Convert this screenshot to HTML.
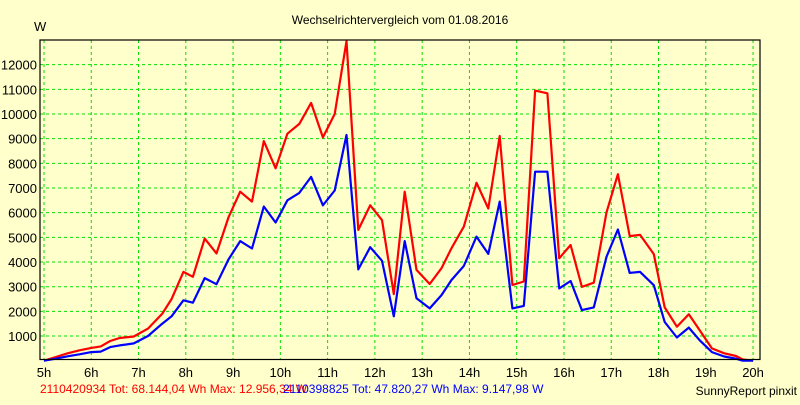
<!DOCTYPE html>
<html><head><meta charset="utf-8"><style>
html,body{margin:0;padding:0;background:#ffffcc;}
svg text{font-family:"Liberation Sans",sans-serif;}
</style></head><body>
<svg id="chart" width="800" height="400" viewBox="0 0 800 400">
<rect x="0" y="0" width="800" height="400" fill="#ffffcc"/>
<text x="400" y="24" font-size="12" text-anchor="middle" fill="#000">Wechselrichtervergleich vom 01.08.2016</text>
<text x="34" y="31" font-size="13" fill="#000">W</text>
<g id="grid"></g>
<g id="ticks"></g>
<g id="series"></g>
<rect x="40" y="40" width="720" height="319.5" fill="none" stroke="#000" stroke-width="1.2"/>
<text x="40" y="393" font-size="12" fill="#ff0000">2110420934 Tot: 68.144,04 Wh Max: 12.956,34 W</text>
<text x="283" y="393" font-size="12" fill="#0000ff">2110398825 Tot: 47.820,27 Wh Max: 9.147,98 W</text>
<text x="797" y="395" font-size="12" text-anchor="end" fill="#000">SunnyReport pinxit</text>
</svg>
<script>
const times = [5,5.25,5.5,5.75,6,6.2,6.4,6.6,6.9,7.2,7.5,7.7,7.95,8.15,8.4,8.65,8.9,9.15,9.4,9.65,9.9,10.15,10.4,10.65,10.9,11.15,11.4,11.65,11.9,12.15,12.4,12.63,12.88,13.16,13.41,13.62,13.88,14.15,14.4,14.64,14.91,15.15,15.39,15.65,15.9,16.14,16.38,16.63,16.9,17.14,17.39,17.61,17.9,18.13,18.39,18.64,18.87,19.13,19.39,19.64,19.78,20];
const redValues = [0,150,300,420,520,580,800,920,980,1300,1900,2500,3600,3400,4950,4350,5800,6850,6450,8900,7800,9200,9600,10450,9050,10000,12950,5300,6300,5700,2700,6850,3680,3110,3750,4560,5430,7210,6170,9110,3070,3210,10950,10840,4150,4690,2990,3160,6010,7560,5050,5100,4320,2160,1380,1880,1240,500,300,190,50,0];
const blueValues = [0,80,180,260,350,370,550,620,700,1000,1500,1800,2450,2350,3350,3100,4100,4850,4550,6250,5600,6500,6800,7450,6300,6900,9150,3700,4600,4050,1800,4850,2530,2120,2660,3270,3840,5030,4330,6450,2120,2220,7660,7660,2930,3230,2050,2160,4210,5320,3560,3600,3060,1570,940,1340,830,350,170,80,0,0];
const xTicks = [5,6,7,8,9,10,11,12,13,14,15,16,17,18,19,20];
const yTicks = [1000,2000,3000,4000,5000,6000,7000,8000,9000,10000,11000,12000];

const NS = "http://www.w3.org/2000/svg";
function xs(t){ return 44 + (t - 5) * 47.27; }
function ys(v){ return 360.7 - v * 0.02467; }

const grid = document.getElementById('grid');
const ticks = document.getElementById('ticks');
xTicks.forEach(t => {
  const l = document.createElementNS(NS, 'line');
  
  
  l.setAttribute('x1', xs(t)); l.setAttribute('x2', xs(t));
  l.setAttribute('y1', 40); l.setAttribute('y2', 359);
  l.setAttribute('stroke', '#00e000'); l.setAttribute('stroke-dasharray', '3,3');
  grid.appendChild(l);
  const tx = document.createElementNS(NS, 'text');
  
  
  tx.setAttribute('x', xs(t)); tx.setAttribute('y', 377);
  tx.setAttribute('font-size', '13'); tx.setAttribute('text-anchor', 'middle');
  tx.textContent = t + 'h';
  ticks.appendChild(tx);
});
yTicks.forEach(v => {
  const l = document.createElementNS(NS, 'line');
  
  
  l.setAttribute('x1', 40); l.setAttribute('x2', 760);
  l.setAttribute('y1', ys(v)); l.setAttribute('y2', ys(v));
  l.setAttribute('stroke', '#00e000'); l.setAttribute('stroke-dasharray', '3,3');
  grid.appendChild(l);
  const tx = document.createElementNS(NS, 'text');
  
  
  tx.setAttribute('x', 37); tx.setAttribute('y', ys(v) + 5);
  tx.setAttribute('font-size', '13'); tx.setAttribute('text-anchor', 'end');
  tx.textContent = v;
  ticks.appendChild(tx);
});

const series = document.getElementById('series');
function drawLine(vals, color, name){
  const p = document.createElementNS(NS, 'polyline');
  
  
  p.setAttribute('points', vals.map((v,i) => xs(times[i]).toFixed(1) + ',' + ys(v).toFixed(1)).join(' '));
  p.setAttribute('fill', 'none'); p.setAttribute('stroke', color);
  p.setAttribute('stroke-width', '2.2'); p.setAttribute('stroke-linejoin', 'round');
  series.appendChild(p);
}
drawLine(redValues, '#ff0000', 'series-2110420934-line');
drawLine(blueValues, '#0000ff', 'series-2110398825-line');
</script>
</body></html>
